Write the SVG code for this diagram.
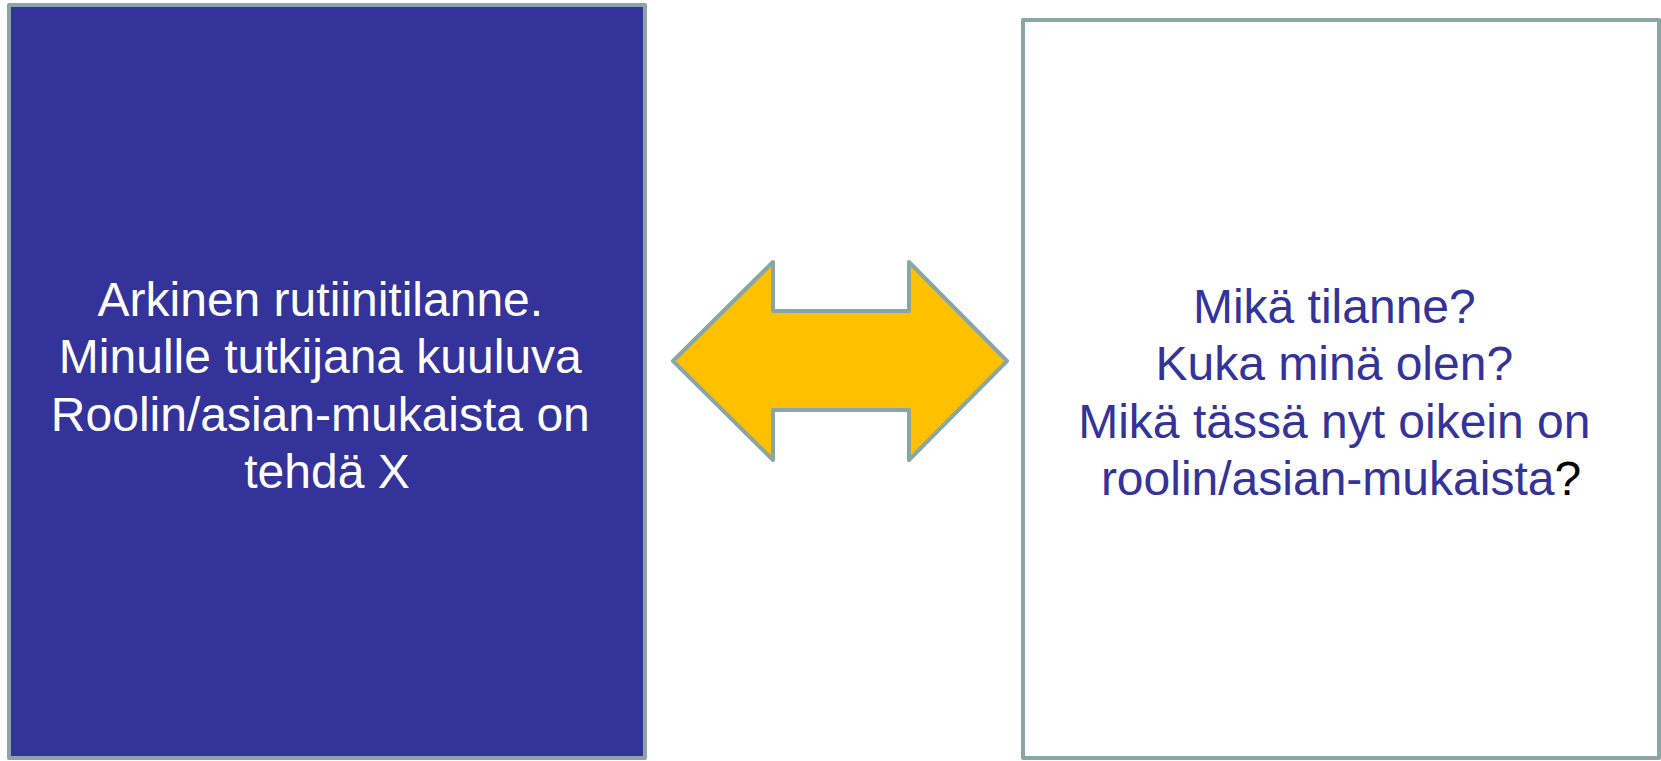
<svg xmlns="http://www.w3.org/2000/svg" width="1661" height="761" viewBox="0 0 1661 761">
<style>
.box{stroke:#8AA5A5;stroke-width:4;stroke-linejoin:round}
.t{font-family:"Liberation Sans",Arial,sans-serif;font-size:48px;text-anchor:middle}
</style>
<rect width="1661" height="761" fill="#FFFFFF"/>
<g id="left-node">
<rect class="box" x="9" y="5" width="636" height="753" fill="#333399"/>
<text class="t" fill="#FFFFFF">
<tspan x="327" y="315.5">Arkinen rutiinitilanne.</tspan>
<tspan x="327" y="373">Minulle tutkijana kuuluva</tspan>
<tspan x="327" y="430.5">Roolin/asian-mukaista on</tspan>
<tspan x="327" y="488">tehdä X</tspan>
</text>
</g>
<g id="right-node">
<rect class="box" x="1023" y="20" width="636" height="738" fill="#FFFFFF"/>
<text class="t" fill="#333399">
<tspan x="1341" y="323">Mikä tilanne?</tspan>
<tspan x="1341" y="380">Kuka minä olen?</tspan>
<tspan x="1341" y="437.5">Mikä tässä nyt oikein on</tspan>
<tspan x="1341" y="495">roolin/asian-mukaista<tspan fill="#000000">?</tspan></tspan>
</text>
</g>
<g id="connectors">
<polygon class="box" fill="#FFC000" points="673,361 773,262 773,311 909,311 909,262 1007,361 909,460 909,410 773,410 773,460"/>
</g>
</svg>
